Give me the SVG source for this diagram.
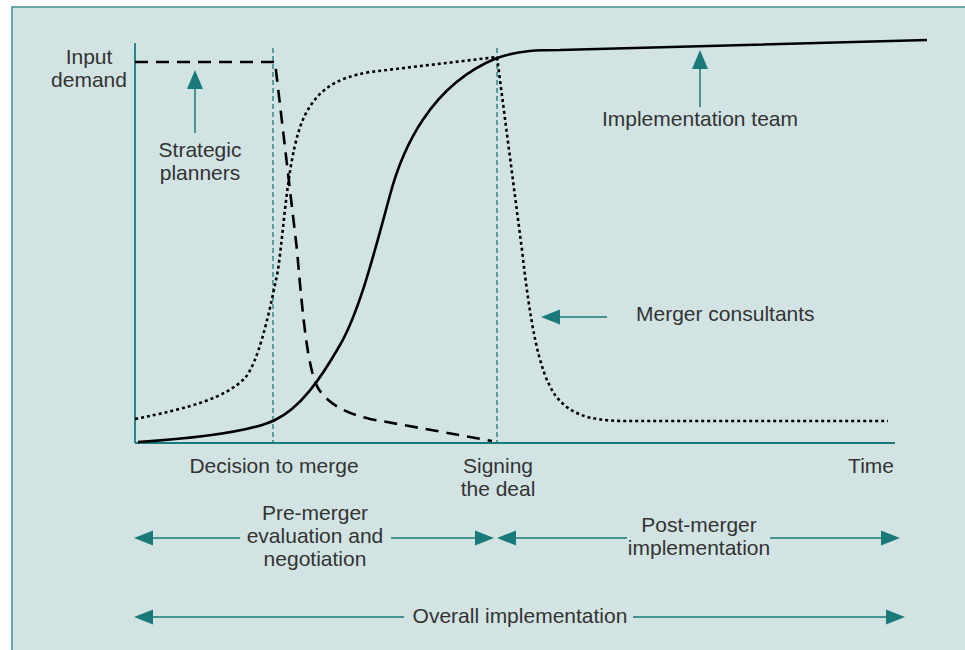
<svg xmlns="http://www.w3.org/2000/svg" width="965" height="650" viewBox="0 0 965 650">
<style>
.t{font-family:"Liberation Sans",Arial,sans-serif;font-size:21px;fill:#333333}
.m{text-anchor:middle}
.teal{stroke:#1a7a7a;fill:none}
.head{fill:#1a7a7a;stroke:none}
.vd{stroke:#1a7a7a;stroke-width:1.3;stroke-dasharray:5 3;fill:none}
.curve{stroke:#000;fill:none;stroke-width:2.6}
</style>
<rect x="0" y="0" width="965" height="650" fill="#ffffff"/>
<rect id="frame" x="12" y="7" width="1000" height="700" fill="#d2e3e3" stroke="#3d9191" stroke-width="1.5"/>
<g id="axes">
<line class="teal" x1="135" y1="43" x2="135" y2="443" stroke-width="1.8"/>
<line class="teal" x1="135" y1="443" x2="895" y2="443" stroke-width="1.8"/>
<line class="vd" x1="273" y1="48" x2="273" y2="443"/>
<line class="vd" x1="497" y1="48" x2="497" y2="443"/>
</g>
<g id="curves">
<path id="implementation-team-curve" class="curve" d="M138,442 C200,438 250,432 275,420 C300,408 320,380 340,345 C360,310 375,250 390,195 C402,150 430,85 497,58 C520,50 540,50 560,50 L927,40"/>
<path id="strategic-planners-curve" class="curve" stroke-dasharray="13 8" d="M135,62 H275 L297,250 C303,320 308,370 318,388 C328,404 345,413 370,419 L492,441"/>
<path id="merger-consultants-curve" class="curve" stroke-width="3" stroke-dasharray="3 3" d="M135,419 C190,408 225,398 245,378 C258,362 268,320 278,270 C285,220 288,150 305,115 C318,90 335,78 370,72 L497,57 L522,250 C530,320 538,370 555,395 C570,415 590,420 620,421 L888,421"/>
</g>
<g id="connectors">
<line class="teal" stroke-width="1.5" x1="195" y1="133" x2="195" y2="86"/>
<polygon class="head" points="195,70 203,89 187,89"/>
<line class="teal" stroke-width="1.5" x1="700" y1="107" x2="700" y2="66"/>
<polygon class="head" points="700,50 708,69 692,69"/>
<line class="teal" stroke-width="1.5" x1="607" y1="317" x2="556" y2="317"/>
<polygon class="head" points="541,317 560,309.5 560,324.5"/>
<line class="teal" stroke-width="1.5" x1="150" y1="538" x2="240" y2="538"/>
<line class="teal" stroke-width="1.5" x1="391" y1="538" x2="479" y2="538"/>
<polygon class="head" points="134,538 153,530.5 153,545.5"/>
<polygon class="head" points="494,538 475,530.5 475,545.5"/>
<line class="teal" stroke-width="1.5" x1="513" y1="538" x2="627" y2="538"/>
<line class="teal" stroke-width="1.5" x1="770" y1="538" x2="885" y2="538"/>
<polygon class="head" points="497,538 516,530.5 516,545.5"/>
<polygon class="head" points="900,538 881,530.5 881,545.5"/>
<line class="teal" stroke-width="1.5" x1="150" y1="617" x2="404" y2="617"/>
<line class="teal" stroke-width="1.5" x1="633" y1="617" x2="890" y2="617"/>
<polygon class="head" points="134,617 153,609.5 153,624.5"/>
<polygon class="head" points="905,617 886,609.5 886,624.5"/>
</g>
<g id="label-input-demand"><text class="t m" x="89" y="64">Input</text><text class="t m" x="89" y="87">demand</text></g>
<g id="label-strategic-planners"><text class="t m" x="200" y="157">Strategic</text><text class="t m" x="200" y="180">planners</text></g>
<g id="label-implementation-team"><text class="t m" x="700" y="126">Implementation team</text></g>
<g id="label-merger-consultants"><text class="t" x="636" y="321">Merger consultants</text></g>
<g id="label-decision"><text class="t m" x="274" y="473">Decision to merge</text></g>
<g id="label-signing"><text class="t m" x="498" y="473">Signing</text><text class="t m" x="498" y="496">the deal</text></g>
<g id="label-time"><text class="t" x="894" y="473" text-anchor="end">Time</text></g>
<g id="label-pre-merger"><text class="t m" x="315" y="520">Pre-merger</text><text class="t m" x="315" y="543">evaluation and</text><text class="t m" x="315" y="566">negotiation</text></g>
<g id="label-post-merger"><text class="t m" x="699" y="532">Post-merger</text><text class="t m" x="699" y="555">implementation</text></g>
<g id="label-overall"><text class="t m" x="520" y="623">Overall implementation</text></g>
</svg>
